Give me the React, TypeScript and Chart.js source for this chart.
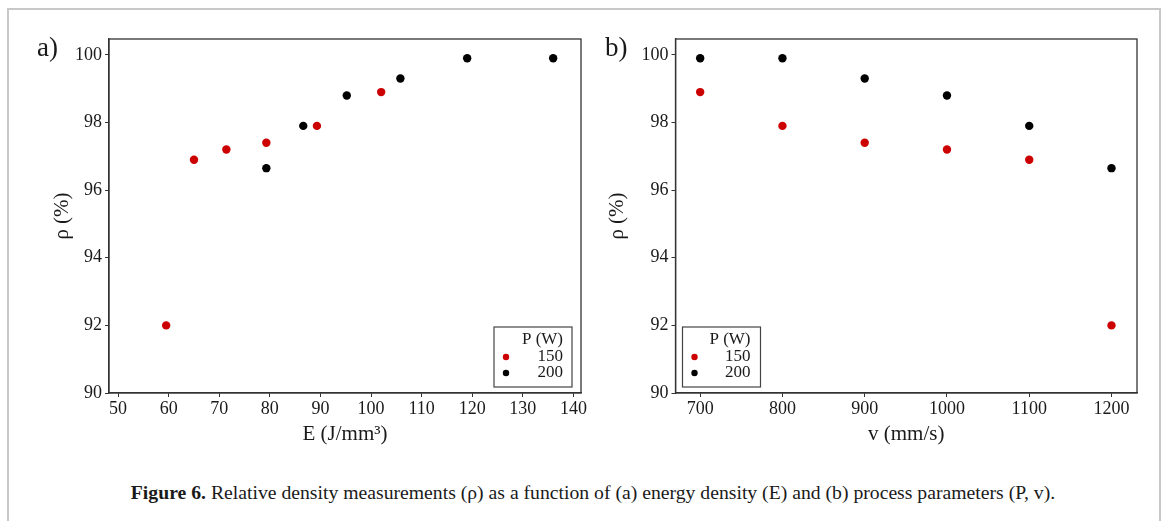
import React, { useEffect, useRef } from 'react';
import { Chart, registerables } from 'chart.js';

Chart.register(...registerables);

const FONT = '"Liberation Serif", "Times New Roman", serif';

// ---- data ----
const legendTitle = 'P (W)';
const label150 = '150';
const label200 = '200';
const color150 = '#cc0000';
const color200 = '#000000';

// panel a: energy density E (J/mm³) vs relative density ρ (%)
const energy150 = [59.5, 65.0, 71.4, 79.3, 89.3, 102.0];
const densityE150 = [92.0, 96.9, 97.2, 97.4, 97.9, 98.9];
const energy200 = [79.3, 86.6, 95.2, 105.8, 119.0, 136.0];
const densityE200 = [96.65, 97.9, 98.8, 99.3, 99.9, 99.9];

// panel b: scan speed v (mm/s) vs relative density ρ (%)
const speeds = [700, 800, 900, 1000, 1100, 1200];
const densityV150 = [98.9, 97.9, 97.4, 97.2, 96.9, 92.0];
const densityV200 = [99.9, 99.9, 99.3, 98.8, 97.9, 96.65];

const yTitle = 'ρ (%)';
const xTitleA = 'E (J/mm³)';
const xTitleB = 'v (mm/s)';

const toPoints = (xs: number[], ys: number[]) => xs.map((x, i) => ({ x, y: ys[i] }));

const boxPlugin = {
  id: 'frameBox',
  afterDraw(chart: any) {
    const { ctx, chartArea } = chart;
    ctx.save();
    ctx.strokeStyle = '#333333';
    ctx.lineWidth = 1.3;
    ctx.strokeRect(chartArea.left, chartArea.top, chartArea.right - chartArea.left, chartArea.bottom - chartArea.top);
    ctx.restore();
  },
};

const legendPlugin = {
  id: 'insetLegend',
  afterDraw(chart: any, _args: any, opts: any) {
    const { ctx, chartArea } = chart;
    const w = opts.width;
    const h = opts.height;
    const x = opts.corner === 'right' ? chartArea.right - opts.insetX - w : chartArea.left + opts.insetX;
    const y = chartArea.bottom - opts.insetY - h;
    ctx.save();
    ctx.fillStyle = '#ffffff';
    ctx.fillRect(x, y, w, h);
    ctx.strokeStyle = '#444444';
    ctx.lineWidth = 1.2;
    ctx.strokeRect(x, y, w, h);
    ctx.font = `17px ${FONT}`;
    ctx.textAlign = 'right';
    ctx.textBaseline = 'middle';
    ctx.fillStyle = '#1a1a1a';
    ctx.fillText(opts.title, x + w - opts.textRight, y + 13);
    chart.data.datasets.forEach((ds: any, i: number) => {
      const ry = y + 30 + i * 16;
      ctx.beginPath();
      ctx.arc(x + 12, ry, 3.2, 0, Math.PI * 2);
      ctx.fillStyle = ds.backgroundColor;
      ctx.fill();
      ctx.fillStyle = '#1a1a1a';
      ctx.fillText(ds.label, x + w - opts.textRight, ry);
    });
    ctx.restore();
  },
};

function makeConfig(p: any) {
  return {
    type: 'scatter',
    data: {
      datasets: [
        {
          label: label150,
          data: p.d150,
          backgroundColor: color150,
          borderColor: color150,
          pointRadius: 4.2,
          pointBorderWidth: 0,
        },
        {
          label: label200,
          data: p.d200,
          backgroundColor: color200,
          borderColor: color200,
          pointRadius: 4.2,
          pointBorderWidth: 0,
        },
      ],
    },
    options: {
      animation: false,
      responsive: false,
      maintainAspectRatio: false,
      layout: { padding: { left: 0, top: p.top, right: p.right, bottom: 0 } },
      plugins: {
        legend: { display: false },
        tooltip: { enabled: false },
        insetLegend: {
          title: legendTitle,
          corner: p.legendCorner,
          width: 78,
          height: 60,
          insetX: p.legendInsetX,
          insetY: 6,
          textRight: p.legendTextRight,
        },
      },
      scales: {
        x: {
          type: 'linear',
          min: p.xmin,
          max: p.xmax,
          afterFit: (s: any) => {
            s.height = p.xAxisHeight;
          },
          ticks: {
            stepSize: p.xstep,
            includeBounds: false,
            color: '#1a1a1a',
            font: { family: FONT, size: 18 },
            padding: 1,
            maxRotation: 0,
            autoSkip: false,
            callback: (v: any) => String(v),
          },
          grid: { drawOnChartArea: false, drawTicks: true, tickLength: 4, color: '#333333', lineWidth: 1 },
          border: { display: true, color: '#333333', width: 1.3 },
          title: {
            display: true,
            text: p.xTitle,
            color: '#1a1a1a',
            font: { family: FONT, size: 21 },
            padding: { top: 0, bottom: 13 },
          },
        },
        y: {
          type: 'linear',
          min: 90,
          max: 100.47,
          afterFit: (s: any) => {
            s.width = p.yAxisWidth;
          },
          ticks: {
            stepSize: 2,
            includeBounds: false,
            color: '#1a1a1a',
            font: { family: FONT, size: 18 },
            padding: 3,
            callback: (v: any) => String(v),
          },
          grid: { drawOnChartArea: false, drawTicks: true, tickLength: 4, color: '#333333', lineWidth: 1 },
          border: { display: true, color: '#333333', width: 1.3 },
          title: {
            display: true,
            text: yTitle,
            color: '#1a1a1a',
            font: { family: FONT, size: 21 },
            padding: { top: p.yTitlePad, bottom: 0 },
          },
        },
      },
    },
    plugins: [boxPlugin, legendPlugin],
  };
}

function Panel(props: { left: number; width: number; cfg: any }) {
  const ref = useRef<HTMLCanvasElement | null>(null);
  useEffect(() => {
    if (!ref.current) return;
    const chart = new Chart(ref.current, makeConfig(props.cfg) as any);
    return () => chart.destroy();
  }, []);
  return (
    <canvas
      ref={ref}
      width={props.width}
      height={460}
      style={{ position: 'absolute', left: props.left, top: 0, width: props.width, height: 460 }}
    />
  );
}

const cfgA = {
  d150: toPoints(energy150, densityE150),
  d200: toPoints(energy200, densityE200),
  xmin: 48.2,
  xmax: 141.5,
  xstep: 10,
  xTitle: xTitleA,
  top: 39,
  right: 19,
  xAxisHeight: 67,
  yAxisWidth: 109,
  yTitlePad: 50,
  legendCorner: 'right',
  legendInsetX: 9,
  legendTextRight: 9,
};

const cfgB = {
  d150: toPoints(speeds, densityV150),
  d200: toPoints(speeds, densityV200),
  xmin: 670,
  xmax: 1231,
  xstep: 100,
  xTitle: xTitleB,
  top: 39,
  right: 23,
  xAxisHeight: 67,
  yAxisWidth: 105.5,
  yTitlePad: 35,
  legendCorner: 'left',
  legendInsetX: 7,
  legendTextRight: 10,
};

export default function App() {
  return (
    <div style={{ position: 'absolute', left: 0, top: 0, width: 1165, height: 521, overflow: 'hidden', background: '#ffffff' }}>
      <div
        style={{
          position: 'absolute',
          left: 7,
          top: 8,
          width: 1154,
          height: 530,
          border: '2px solid #c8c8c8',
          boxSizing: 'border-box',
        }}
      />
      <Panel left={0} width={600} cfg={cfgA} />
      <Panel left={570} width={590} cfg={cfgB} />
      <div style={{ position: 'absolute', left: 37, top: 30, fontFamily: FONT, fontSize: 27, color: '#1a1a1a', lineHeight: '34px' }}>a)</div>
      <div style={{ position: 'absolute', left: 605, top: 30, fontFamily: FONT, fontSize: 27, color: '#1a1a1a', lineHeight: '34px' }}>b)</div>
      <div
        style={{
          position: 'absolute',
          left: 15,
          width: 1156,
          top: 480,
          textAlign: 'center',
          fontFamily: FONT,
          fontSize: 19.7,
          lineHeight: '24px',
          color: '#1a1a1a',
          whiteSpace: 'nowrap',
        }}
      >
        <b>Figure 6.</b> Relative density measurements (ρ) as a function of (a) energy density (E) and (b) process parameters (P, v).
      </div>
    </div>
  );
}
